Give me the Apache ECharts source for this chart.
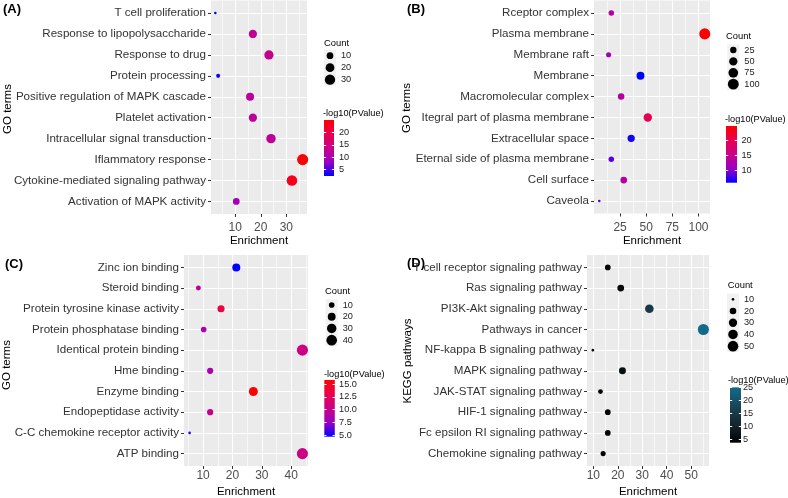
<!DOCTYPE html>
<html><head><meta charset="utf-8">
<script src="https://cdn.jsdelivr.net/npm/echarts@6/dist/echarts.min.js"></script>
<style>html,body{margin:0;padding:0;background:#fff}#c{width:788px;height:498px}</style>
</head><body><div id="c"></div>
<script>
// ---------- Panel A (GO biological process) ----------
const termsA = ['T cell proliferation','Response to lipopolysaccharide','Response to drug','Protein processing','Positive regulation of MAPK cascade','Platelet activation','Intracellular signal transduction','Iflammatory response','Cytokine-mediated signaling pathway','Activation of MAPK activity'];
const enrichA = [2.2, 16.9, 23.2, 3.3, 15.8, 16.9, 24.0, 36.4, 32.2, 10.4];
const countA  = [2, 17, 23, 3, 16, 17, 24, 36, 32, 10];
const logpA   = [2.3, 12.6, 13.2, 3.0, 11.8, 12.3, 12.4, 25.2, 23.2, 9.0];
const xTicksA = [10, 20, 30];
const xMinorA = [5, 15, 25, 35];
const sizeKeysA = [10, 20, 30];
const colorTicksA = [5, 10, 15, 20];

// ---------- Panel B (GO cellular component) ----------
const termsB = ['Rceptor complex','Plasma membrane','Membrane raft','Membrane','Macromolecular complex','Itegral part of plasma membrane','Extracellular space','Eternal side of plasma membrane','Cell surface','Caveola'];
const enrichB = [16.6, 106, 14.0, 44.5, 26.0, 51.5, 35.6, 16.6, 28.5, 5.1];
const countB  = [17, 106, 14, 45, 26, 52, 36, 17, 29, 5];
const logpB   = [13.2, 25.0, 11.3, 5.7, 13.0, 20.0, 6.3, 8.5, 13.4, 8.0];
const xTicksB = [25, 50, 75, 100];
const xMinorB = [12.5, 37.5, 62.5, 87.5];
const sizeKeysB = [25, 50, 75, 100];
const colorTicksB = [10, 15, 20];

// ---------- Panel C (GO molecular function) ----------
const termsC = ['Zinc ion binding','Steroid binding','Protein tyrosine kinase activity','Protein phosphatase binding','Identical protein binding','Hme binding','Enzyme binding','Endopeptidase activity','C-C chemokine receptor activity','ATP binding'];
const enrichC = [21.3, 8.4, 16.1, 10.2, 43.8, 12.4, 27.1, 12.4, 5.4, 43.8];
const countC  = [21, 8, 16, 10, 44, 12, 27, 12, 5, 44];
const logpC   = [4.7, 9.5, 13.5, 8.5, 10.5, 8.5, 15.8, 10.0, 5.2, 10.5];
const xTicksC = [10, 20, 30, 40];
const xMinorC = [5, 15, 25, 35, 45];
const sizeKeysC = [10, 20, 30, 40];
const colorTicksC = [5, 7.5, 10, 12.5, 15];

// ---------- Panel D (KEGG pathways) ----------
const termsD = ['T cell receptor signaling pathway','Ras signaling pathway','PI3K-Akt signaling pathway','Pathways in cancer','NF-kappa B signaling pathway','MAPK signaling pathway','JAK-STAT signaling pathway','HIF-1 signaling pathway','Fc epsilon RI signaling pathway','Chemokine signaling pathway'];
const enrichD = [15.9, 21.2, 32.9, 55.0, 9.8, 21.9, 12.9, 15.9, 15.9, 14.0];
const countD  = [16, 21, 33, 55, 10, 22, 13, 16, 16, 14];
const logpD   = [5.0, 5.5, 15.0, 25.1, 3.7, 6.0, 4.5, 4.8, 4.8, 4.5];
const xTicksD = [10, 20, 30, 40, 50];
const xMinorD = [15, 25, 35, 45, 55];
const sizeKeysD = [10, 20, 30, 40, 50];
const colorTicksD = [5, 10, 15, 20, 25];

// ---------- styles / layout ----------
const FONT = 'Liberation Sans, Arial, Helvetica, sans-serif';
const blueRed = ['#0000FF', '#9A00C3', '#C90088', '#E80050', '#FF0000'];
const blackTeal = ['#000000', '#121E25', '#183644', '#194F65', '#136B8A'];

const panels = [
  {terms: termsA, x: enrichA, count: countA, p: logpA, xTicks: xTicksA, xMinor: xMinorA, keys: sizeKeysA, cTicks: colorTicksA,
   colors: blueRed, yTitle: 'GO terms', tag: '(A)', dec: 0,
   L: {grid: [211, 0.5, 96, 213.5], xRange: [0.5, 38.1], labelMargin: 8, nameGap: 19, tag: [3, 9], yTitle: [7.5, 109],
       countTitle: [324, 43], countGrid: [324, 49.7, 12, 36], barTitle: [323, 113], barGrid: [324, 120, 10, 56], barMargin: 5}},
  {terms: termsB, x: enrichB, count: countB, p: logpB, xTicks: xTicksB, xMinor: xMinorB, keys: sizeKeysB, cTicks: colorTicksB,
   colors: blueRed, yTitle: 'GO terms', tag: '(B)', dec: 0,
   L: {grid: [594, 0.5, 116, 213], xRange: [0.05, 111.0], labelMargin: 8, nameGap: 19, tag: [407, 9], yTitle: [407, 108],
       countTitle: [726, 36], countGrid: [727.3, 44.3, 12, 45.6], barTitle: [725, 119.5], barGrid: [726, 126, 11, 56.7], barMargin: 4.5}},
  {terms: termsC, x: enrichC, count: countC, p: logpC, xTicks: xTicksC, xMinor: xMinorC, keys: sizeKeysC, cTicks: colorTicksC,
   colors: blueRed, yTitle: 'GO terms', tag: '(C)', dec: 1,
   L: {grid: [184, 255, 124, 211], xRange: [3.5, 45.7], labelMargin: 4, nameGap: 20, tag: [5, 264], yTitle: [7, 365],
       countTitle: [325, 291], countGrid: [325.7, 299.2, 12, 46.8], barTitle: [324, 374], barGrid: [324.3, 380, 10.5, 56.7], barMargin: 4.3}},
  {terms: termsD, x: enrichD, count: countD, p: logpD, xTicks: xTicksD, xMinor: xMinorD, keys: sizeKeysD, cTicks: colorTicksD,
   colors: blackTeal, yTitle: 'KEGG pathways', tag: '(D)', dec: 0,
   L: {grid: [587, 255, 122, 211], xRange: [7.4, 57.3], labelMargin: 4, nameGap: 20, tag: [407, 263], yTitle: [408, 361],
       countTitle: [727.7, 285], countGrid: [727, 293.5, 12, 58.5], barTitle: [728, 380], barGrid: [730, 387.3, 11, 55.4], barMargin: 2}}
];

function makeSize(counts) {
  const mn = Math.min(...counts), mx = Math.max(...counts);
  return c => 1.7 * (1 + 5 * Math.sqrt(Math.max(0, (c - mn) / (mx - mn)))) + 0.9;
}

const noLine = {show: false, onZero: false};
const option = {
  animation: false,
  textStyle: {fontFamily: FONT},
  grid: [], xAxis: [], yAxis: [], series: [], visualMap: [], graphic: []
};

panels.forEach(P => {
  const L = P.L;
  const sz = makeSize(P.count);
  const pmin = Math.min(...P.p), pmax = Math.max(...P.p);
  const idx = P.terms.map((t, i) => i);

  // main plot
  const gi = option.grid.length;
  option.grid.push({left: L.grid[0], top: L.grid[1], width: L.grid[2], height: L.grid[3], show: true,
    backgroundColor: '#EBEBEB', borderWidth: 0, outerBoundsMode: 'none'});
  const xi = option.xAxis.length;
  option.xAxis.push({gridIndex: gi, type: 'value', min: L.xRange[0], max: L.xRange[1], z: 1,
    axisLine: noLine,
    axisTick: {show: true, customValues: P.xTicks, length: 3, lineStyle: {color: '#333', width: 1}},
    axisLabel: {customValues: P.xTicks, fontSize: 12, color: '#4D4D4D', margin: L.labelMargin},
    splitLine: {show: true, lineStyle: {color: '#FFFFFF', width: 1.1}},
    name: 'Enrichment', nameLocation: 'middle', nameGap: L.nameGap,
    nameTextStyle: {fontSize: 11.5, color: '#000', verticalAlign: 'top'}});
  option.xAxis.push({gridIndex: gi, type: 'value', position: 'top', min: L.xRange[0], max: L.xRange[1], z: 0,
    axisLine: noLine, axisTick: {show: false, customValues: P.xMinor},
    axisLabel: {show: false, customValues: P.xMinor},
    splitLine: {show: true, lineStyle: {color: '#FFFFFF', width: 0.6}}});
  const yi = option.yAxis.length;
  option.yAxis.push({gridIndex: gi, type: 'value', inverse: true, min: -0.6, max: P.terms.length - 0.4,
    axisLine: noLine,
    axisTick: {show: true, customValues: idx, length: 3, lineStyle: {color: '#333', width: 1}},
    axisLabel: {customValues: idx, formatter: v => P.terms[Math.round(v)], fontSize: 11.6, color: '#333', margin: 5},
    splitLine: {show: true, lineStyle: {color: '#FFFFFF', width: 1.1}}});
  const si = option.series.length;
  option.series.push({type: 'scatter', xAxisIndex: xi, yAxisIndex: yi, z: 3, silent: true,
    data: P.terms.map((t, i) => [P.x[i], i, P.p[i], P.count[i]]),
    symbolSize: v => sz(v[3]), itemStyle: {opacity: 1}});
  option.visualMap.push({type: 'continuous', show: false, seriesIndex: si, dimension: 2,
    min: pmin, max: pmax, inRange: {color: P.colors}});

  // size legend
  const gk = option.grid.length;
  option.grid.push({left: L.countGrid[0], top: L.countGrid[1], width: L.countGrid[2], height: L.countGrid[3],
    show: true, backgroundColor: '#F2F2F2', borderWidth: 0, outerBoundsMode: 'none'});
  const xk = option.xAxis.length;
  option.xAxis.push({gridIndex: gk, type: 'value', min: -1, max: 1, show: false, axisLine: noLine});
  const yk = option.yAxis.length;
  option.yAxis.push({gridIndex: gk, type: 'category', data: P.keys.map(String), inverse: true, position: 'right',
    axisLine: noLine, axisTick: {show: false}, splitLine: {show: false},
    axisLabel: {interval: 0, fontSize: 9.2, color: '#222', margin: 5}});
  option.series.push({type: 'scatter', xAxisIndex: xk, yAxisIndex: yk, silent: true,
    data: P.keys.map(k => [0, String(k), k]), symbolSize: v => sz(v[2]),
    itemStyle: {color: '#000', opacity: 1}});

  // colour bar
  const gc = option.grid.length;
  option.grid.push({left: L.barGrid[0], top: L.barGrid[1], width: L.barGrid[2], height: L.barGrid[3],
    show: false, outerBoundsMode: 'none'});
  const xc = option.xAxis.length;
  option.xAxis.push({gridIndex: gc, type: 'value', min: 0, max: 1, show: false, axisLine: noLine});
  const yc = option.yAxis.length;
  option.yAxis.push({gridIndex: gc, type: 'value', min: pmin, max: pmax, position: 'right', z: 5,
    axisLine: noLine, splitLine: {show: false},
    axisTick: {show: true, inside: true, length: 2.2, customValues: P.cTicks, lineStyle: {color: '#FFFFFF', width: 1}},
    axisLabel: {customValues: P.cTicks, fontSize: 9.2, color: '#222', margin: L.barMargin,
      formatter: v => Number(v).toFixed(P.dec)}});
  option.yAxis.push({gridIndex: gc, type: 'value', min: pmin, max: pmax, position: 'left', z: 5,
    axisLine: noLine, splitLine: {show: false}, axisLabel: {show: false},
    axisTick: {show: true, inside: true, length: 2.2, customValues: P.cTicks, lineStyle: {color: '#FFFFFF', width: 1}}});
  const stops = P.colors.map((c, i) => ({offset: i / (P.colors.length - 1), color: c}));
  option.series.push({type: 'custom', xAxisIndex: xc, yAxisIndex: yc, silent: true, z: 1,
    data: [[0, pmin, pmax]],
    renderItem: (params, api) => {
      const a = api.coord([0, api.value(1)]);
      const b = api.coord([1, api.value(2)]);
      return {type: 'rect', shape: {x: a[0], y: b[1], width: b[0] - a[0], height: a[1] - b[1]},
        style: {fill: new echarts.graphic.LinearGradient(0, 1, 0, 0, stops)}};
    }});

  // texts
  option.graphic.push({type: 'text', x: L.tag[0], y: L.tag[1],
    style: {text: P.tag, fontSize: 13, fontWeight: 'bold', fontFamily: FONT, fill: '#000', align: 'left', verticalAlign: 'middle'}});
  option.graphic.push({type: 'text', x: L.yTitle[0], y: L.yTitle[1], rotation: Math.PI / 2,
    style: {text: P.yTitle, fontSize: 11.5, fontFamily: FONT, fill: '#000', align: 'center', verticalAlign: 'middle'}});
  option.graphic.push({type: 'text', x: L.countTitle[0], y: L.countTitle[1],
    style: {text: 'Count', fontSize: 9.4, fontFamily: FONT, fill: '#000', align: 'left', verticalAlign: 'middle'}});
  option.graphic.push({type: 'text', x: L.barTitle[0], y: L.barTitle[1],
    style: {text: '-log10(PValue)', fontSize: 9.2, fontFamily: FONT, fill: '#000', align: 'left', verticalAlign: 'middle'}});
});

const chart = echarts.init(document.getElementById('c'), null, {renderer: 'canvas'});
chart.setOption(option);
</script>
</body></html>
